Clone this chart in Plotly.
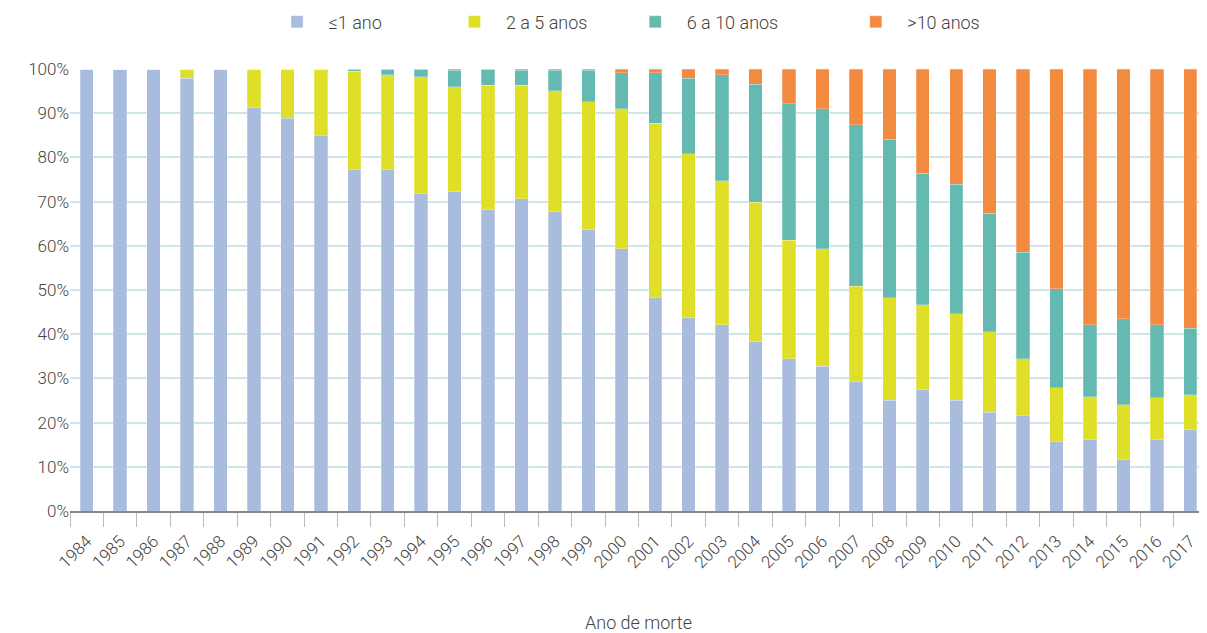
import plotly.graph_objects as go

years = [str(y) for y in range(1984, 2018)]

# cumulative boundaries (percent)
blue_top = [100, 100, 100, 97.9, 100, 91.4, 88.9, 84.9, 77.2, 77.2, 71.9, 72.2, 68.2, 70.7, 67.8, 63.8,
            59.3, 48.3, 43.8, 42.1, 38.4, 34.4, 32.8, 29.2, 25.1, 27.6, 25.1, 22.3, 21.5, 15.7, 16.2, 11.7, 16.2, 18.5]
yellow_top = [100, 100, 100, 100, 100, 100, 100, 100, 99.5, 98.7, 98.3, 96.0, 96.3, 96.3, 95.1, 92.6,
              91.0, 87.7, 80.8, 74.7, 69.9, 61.3, 59.3, 50.8, 48.3, 46.7, 44.6, 40.6, 34.5, 27.9, 25.9, 24.0, 25.6, 26.3]
teal_top = [100, 100, 100, 100, 100, 100, 100, 100, 100, 100, 100, 99.7, 100, 99.7, 99.7, 99.7,
            99.1, 99.1, 97.9, 98.7, 96.6, 92.1, 91.0, 87.4, 84.1, 76.4, 73.9, 67.4, 58.5, 50.3, 42.1, 43.5, 42.1, 41.4]

le1 = [round(b, 1) for b in blue_top]
a2_5 = [round(y - b, 1) for y, b in zip(yellow_top, blue_top)]
a6_10 = [round(t - y, 1) for t, y in zip(teal_top, yellow_top)]
gt10 = [round(100 - t, 1) for t in teal_top]

names = ["≤1 ano", "2 a 5 anos", "6 a 10 anos", ">10 anos"]
colors = ["#a9bcdd", "#dfdf27", "#64b9b1", "#f28a3f"]
series = [le1, a2_5, a6_10, gt10]
legend_ids = ["legend", "legend2", "legend3", "legend4"]
legend_x = [0.172, 0.328, 0.487, 0.681]

FONT = "Roboto"
fig = go.Figure()
for name, col, vals, lg in zip(names, colors, series, legend_ids):
    fig.add_trace(go.Bar(
        x=years, y=vals, name=name, width=0.4, legend=lg, showlegend=True,
        marker=dict(color=col, line=dict(color="rgba(255,255,255,0.5)", width=0.5)),
    ))

layout_legends = {}
for lg, lx in zip(legend_ids, legend_x):
    layout_legends[lg] = dict(orientation="h", x=lx, xanchor="left", y=1.106, yanchor="middle",
                              font=dict(size=18, color="#444", weight=300), itemwidth=53,
                              bgcolor="rgba(0,0,0,0)")

fig.update_layout(
    barmode="stack",
    showlegend=True,
    width=1207, height=633,
    margin=dict(l=62, r=8, t=61, b=130, autoexpand=False),
    paper_bgcolor="white", plot_bgcolor="white",
    font=dict(family=FONT, color="#444", size=16, weight=300),
    xaxis=dict(type="category", ticks="outside", tickson="boundaries", ticklen=14,
               tickcolor="#bbb", showline=True, linecolor="#888", linewidth=1.5,
               tickangle=-45, showgrid=False, ticklabelstandoff=12,
               tickfont=dict(size=17, color="#444", weight=300),
               title=dict(text="Ano de morte", font=dict(size=18, color="#444", weight=300), standoff=45)),
    yaxis=dict(range=[0, 100], dtick=10, ticksuffix="%", showgrid=True, gridcolor="#cfe5ea",
               gridwidth=1.5, zeroline=False, showline=False,
               tickfont=dict(size=17, color="#444", weight=300)),
    **layout_legends,
)
fig.write_html("out.html")
